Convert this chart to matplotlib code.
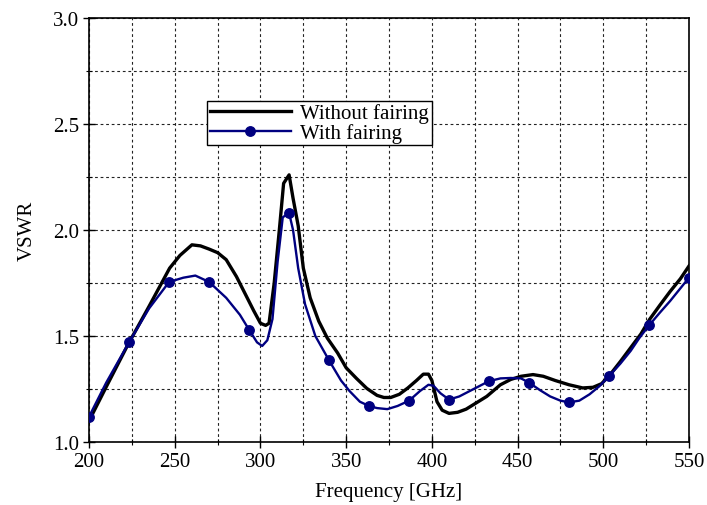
import matplotlib
matplotlib.use("Agg")
import matplotlib.pyplot as plt
from matplotlib.ticker import MultipleLocator

# ---- data ----
freq_without = [200, 210, 222.7, 235, 247, 253, 260, 265, 270, 275, 280, 286, 291, 296, 300,
                303, 305, 308, 311, 313.5, 316.7, 319, 322, 325, 329, 334, 339, 345, 350, 356,
                362, 368, 372, 376, 381, 386, 391, 395, 398, 400, 403, 406, 410, 415, 420,
                426, 432, 440, 446, 452, 459, 465, 472, 480, 488, 494, 499, 504, 510, 516,
                522, 527, 533, 539, 545, 550]
vswr_without = [1.10, 1.26, 1.46, 1.64, 1.82, 1.88, 1.93, 1.925, 1.91, 1.893, 1.86, 1.78, 1.70,
                1.62, 1.56, 1.55, 1.56, 1.75, 2.00, 2.22, 2.26, 2.15, 2.02, 1.82, 1.68, 1.57,
                1.49, 1.42, 1.35, 1.30, 1.253, 1.22, 1.21, 1.21, 1.225, 1.255, 1.29, 1.32,
                1.32, 1.29, 1.19, 1.15, 1.135, 1.14, 1.155, 1.185, 1.215, 1.27, 1.295, 1.31,
                1.318, 1.31, 1.29, 1.27, 1.255, 1.258, 1.275, 1.318, 1.38, 1.445, 1.51, 1.578,
                1.645, 1.71, 1.77, 1.83]

freq_with = [200, 210, 223.3, 235, 246.7, 255, 262, 270, 280, 288, 293.3, 298, 301, 304, 307,
             310, 313, 316.7, 319, 322, 326, 332, 340, 347, 352, 358, 363.3, 368, 374, 380,
             386.7, 393, 398, 401, 405, 410, 416, 422, 428, 433.3, 440, 446, 452, 456.7, 463,
             469, 475, 480, 486, 492, 498, 503.3, 510, 516, 521, 526.7, 533, 539, 545, 550]
vswr_with = [1.12, 1.28, 1.47, 1.63, 1.755, 1.775, 1.785, 1.755, 1.68, 1.60, 1.53, 1.47, 1.453,
             1.48, 1.58, 1.85, 2.06, 2.08, 2.00, 1.82, 1.65, 1.50, 1.385, 1.29, 1.24, 1.19,
             1.17, 1.16, 1.155, 1.17, 1.195, 1.24, 1.27, 1.265, 1.23, 1.20, 1.215, 1.24, 1.265,
             1.287, 1.30, 1.302, 1.30, 1.28, 1.245, 1.215, 1.195, 1.187, 1.195, 1.225, 1.265,
             1.31, 1.37, 1.43, 1.49, 1.55, 1.61, 1.665, 1.725, 1.775]
marker_freqs = [200, 223.3, 246.7, 270, 293.3, 316.7, 340, 363.3, 386.7, 410, 433.3, 456.7,
                480, 503.3, 526.7, 550]

x_ticks = [200, 250, 300, 350, 400, 450, 500, 550]
y_ticks = [1.0, 1.5, 2.0, 2.5, 3.0]

plt.rcParams['font.family'] = ['Liberation Serif', 'DejaVu Serif']

fig = plt.figure(figsize=(7.07, 5.06), dpi=100)
ax = fig.add_axes([0.126, 0.1245, 0.8485, 0.838])

ax.plot(freq_without, vswr_without, color='black', lw=2.4, label='Without fairing',
        solid_joinstyle='round', zorder=3)
mk_idx = [freq_with.index(f) for f in marker_freqs]
ax.plot(freq_with, vswr_with, color='#000080', lw=1.7, marker='o', markersize=6.8,
        markevery=mk_idx, label='With fairing', zorder=4)

ax.set_xlim(200, 550)
ax.set_ylim(1.0, 3.0)
ax.set_xticks(x_ticks)
ax.set_yticks(y_ticks)
ax.set_yticklabels([f"{v:.1f}" for v in y_ticks])
ax.xaxis.set_minor_locator(MultipleLocator(25))
ax.yaxis.set_minor_locator(MultipleLocator(0.25))
ax.grid(True, which='both', color='#222222', linestyle=(0, (2.5, 2.5)), linewidth=0.8)
ax.tick_params(which='major', direction='inout', length=8, width=1.0, labelsize=15,
               top=False, right=False, pad=3)
ax.tick_params(which='minor', direction='inout', length=5, width=0.8, top=False, right=False)
for s in ax.spines.values():
    s.set_linewidth(1.2)

ax.set_xlabel('Frequency [GHz]', fontsize=15, labelpad=8)
ax.set_ylabel('VSWR', fontsize=15, labelpad=12)

leg = ax.legend(loc='upper left', bbox_to_anchor=(0.197, 0.805), fontsize=15,
                frameon=True, fancybox=False, edgecolor='black', framealpha=1,
                handlelength=3.9, borderpad=0.12, labelspacing=0.0, handletextpad=0.45,
                borderaxespad=0)
leg.get_frame().set_linewidth(1.0)

fig.savefig('out.png', dpi=100)
